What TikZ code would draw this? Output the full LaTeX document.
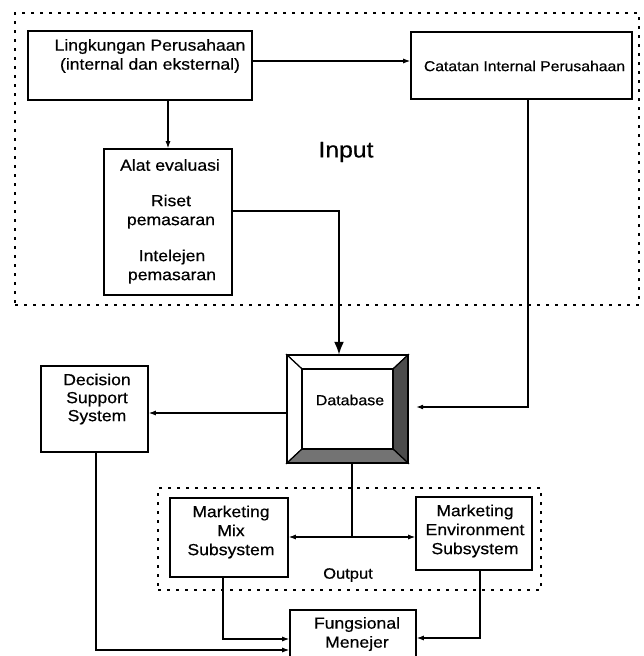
\documentclass[tikz,border=0pt]{standalone}
\usepackage{fontspec}
\setmainfont{Liberation Sans}[FakeStretch=1.1,FakeBold=0.5]
\usetikzlibrary{arrows.meta}
\begin{document}
\begin{tikzpicture}[x=1pt,y=-1pt,
 box/.style={draw, line width=1.6pt, inner sep=0pt},
 lbl/.style={font=\fontsize{16}{19}\selectfont, inner sep=0pt, align=center},
 conn/.style={line width=1.1pt},
 arr/.style={conn, -{Latex[length=7pt,width=5pt]}},
 bigarr/.style={line width=2.2pt, -{Latex[length=13pt,width=10pt]}},
 dotbox/.style={draw, line width=2.8pt, dash pattern=on 3pt off 6pt, inner sep=0pt},
]
\useasboundingbox (0,0) rectangle (643,656);

% dotted group boxes
\node[dotbox, minimum width=624pt, minimum height=292pt] (inbox) at (327,159) {};
\node[dotbox, minimum width=383pt, minimum height=102pt] (outbox) at (349.5,539) {};
\node[lbl, font=\fontsize{22.5}{26}\selectfont] (inputlbl) at (346,152) {Input};
\node[lbl, font=\fontsize{15}{18}\selectfont] (outputlbl) at (348,575) {Output};

% boxes
\node[box, minimum width=224pt, minimum height=69pt] (lingk) at (140,65.5) {};
\node[lbl] (lingkt) at (150,56) {Lingkungan Perusahaan\\(internal dan eksternal)};

\node[box, minimum width=221pt, minimum height=67pt] (catat) at (521.5,65.5) {};
\node[lbl, font=\fontsize{14.3}{17}\selectfont] (catatt) at (524.5,66) {Catatan Internal Perusahaan};

\node[box, minimum width=128pt, minimum height=146pt] (alat) at (168,222) {};
\node[lbl] (alat1) at (170,165) {Alat evaluasi};
\node[lbl] (alat2) at (171,211.5) {Riset\\pemasaran};
\node[lbl] (alat3) at (172,266.5) {Intelejen\\pemasaran};

\node[box, minimum width=107pt, minimum height=86pt] (dss) at (94.5,409) {};
\node[lbl, font=\fontsize{16}{18}\selectfont] (dsst) at (97,399) {Decision\\Support\\System};

% database with bevel
\node[inner sep=0pt, minimum width=121pt, minimum height=108pt] (db) at (347.5,409) {};
\filldraw[line width=1.2pt, fill=white] (287,355) -- (408,355) -- (393,369) -- (302,369) -- cycle;
\filldraw[line width=1.2pt, fill=white] (287,355) -- (302,369) -- (302,449) -- (287,463) -- cycle;
\filldraw[line width=1.2pt, fill=black!70] (408,355) -- (408,463) -- (393,449) -- (393,369) -- cycle;
\filldraw[line width=1.2pt, fill=black!55] (287,463) -- (408,463) -- (393,449) -- (302,449) -- cycle;
\draw[line width=1.6pt] (287,355) rectangle (408,463);
\draw[line width=1.2pt] (302,369) rectangle (393,449);
\node[lbl, font=\fontsize{14.5}{17}\selectfont] (dbt) at (350,400) {Database};

\node[box, minimum width=118pt, minimum height=79pt] (mm) at (229,537.5) {};
\node[lbl] (mmt) at (231,532) {Marketing\\Mix\\Subsystem};

\node[box, minimum width=116pt, minimum height=73pt] (mes) at (474,533.5) {};
\node[lbl] (mest) at (475,531) {Marketing\\Environment\\Subsystem};

\node[box, minimum width=126pt, minimum height=52pt] (fung) at (353,636) {};
\node[lbl] (fungt) at (357,634) {Fungsional\\Menejer};

% connectors
\draw[arr] ([yshift=4.5pt]lingk.east) -- ([yshift=4.5pt]catat.west);
\draw[arr] (lingk.south -| alat.north) -- (alat.north);
\draw[bigarr] (alat.east |- 0,211) -| ([xshift=-8.5pt]db.north);
\draw[arr, shorten >=8pt] ([xshift=6.5pt]catat.south) |- ([yshift=2pt]db.east);
\draw[arr] ([yshift=-4pt]db.west) -- ([yshift=-4pt]dss.east);
\coordinate (split) at (352,537);
\draw[conn] ([xshift=4.5pt]db.south) -- (split);
\draw[conn, {Latex[length=7pt,width=5pt]}-{Latex[length=7pt,width=5pt]}] (mm.east |- split) -- (mes.west |- split);
\draw[arr] ([xshift=1.5pt]dss.south) |- (fung.west |- 0,650);
\draw[arr] ([xshift=-6pt]mm.south) |- (fung.west |- 0,639);
\draw[arr] ([xshift=6pt]mes.south) |- (fung.east |- 0,638);
\end{tikzpicture}
\end{document}
